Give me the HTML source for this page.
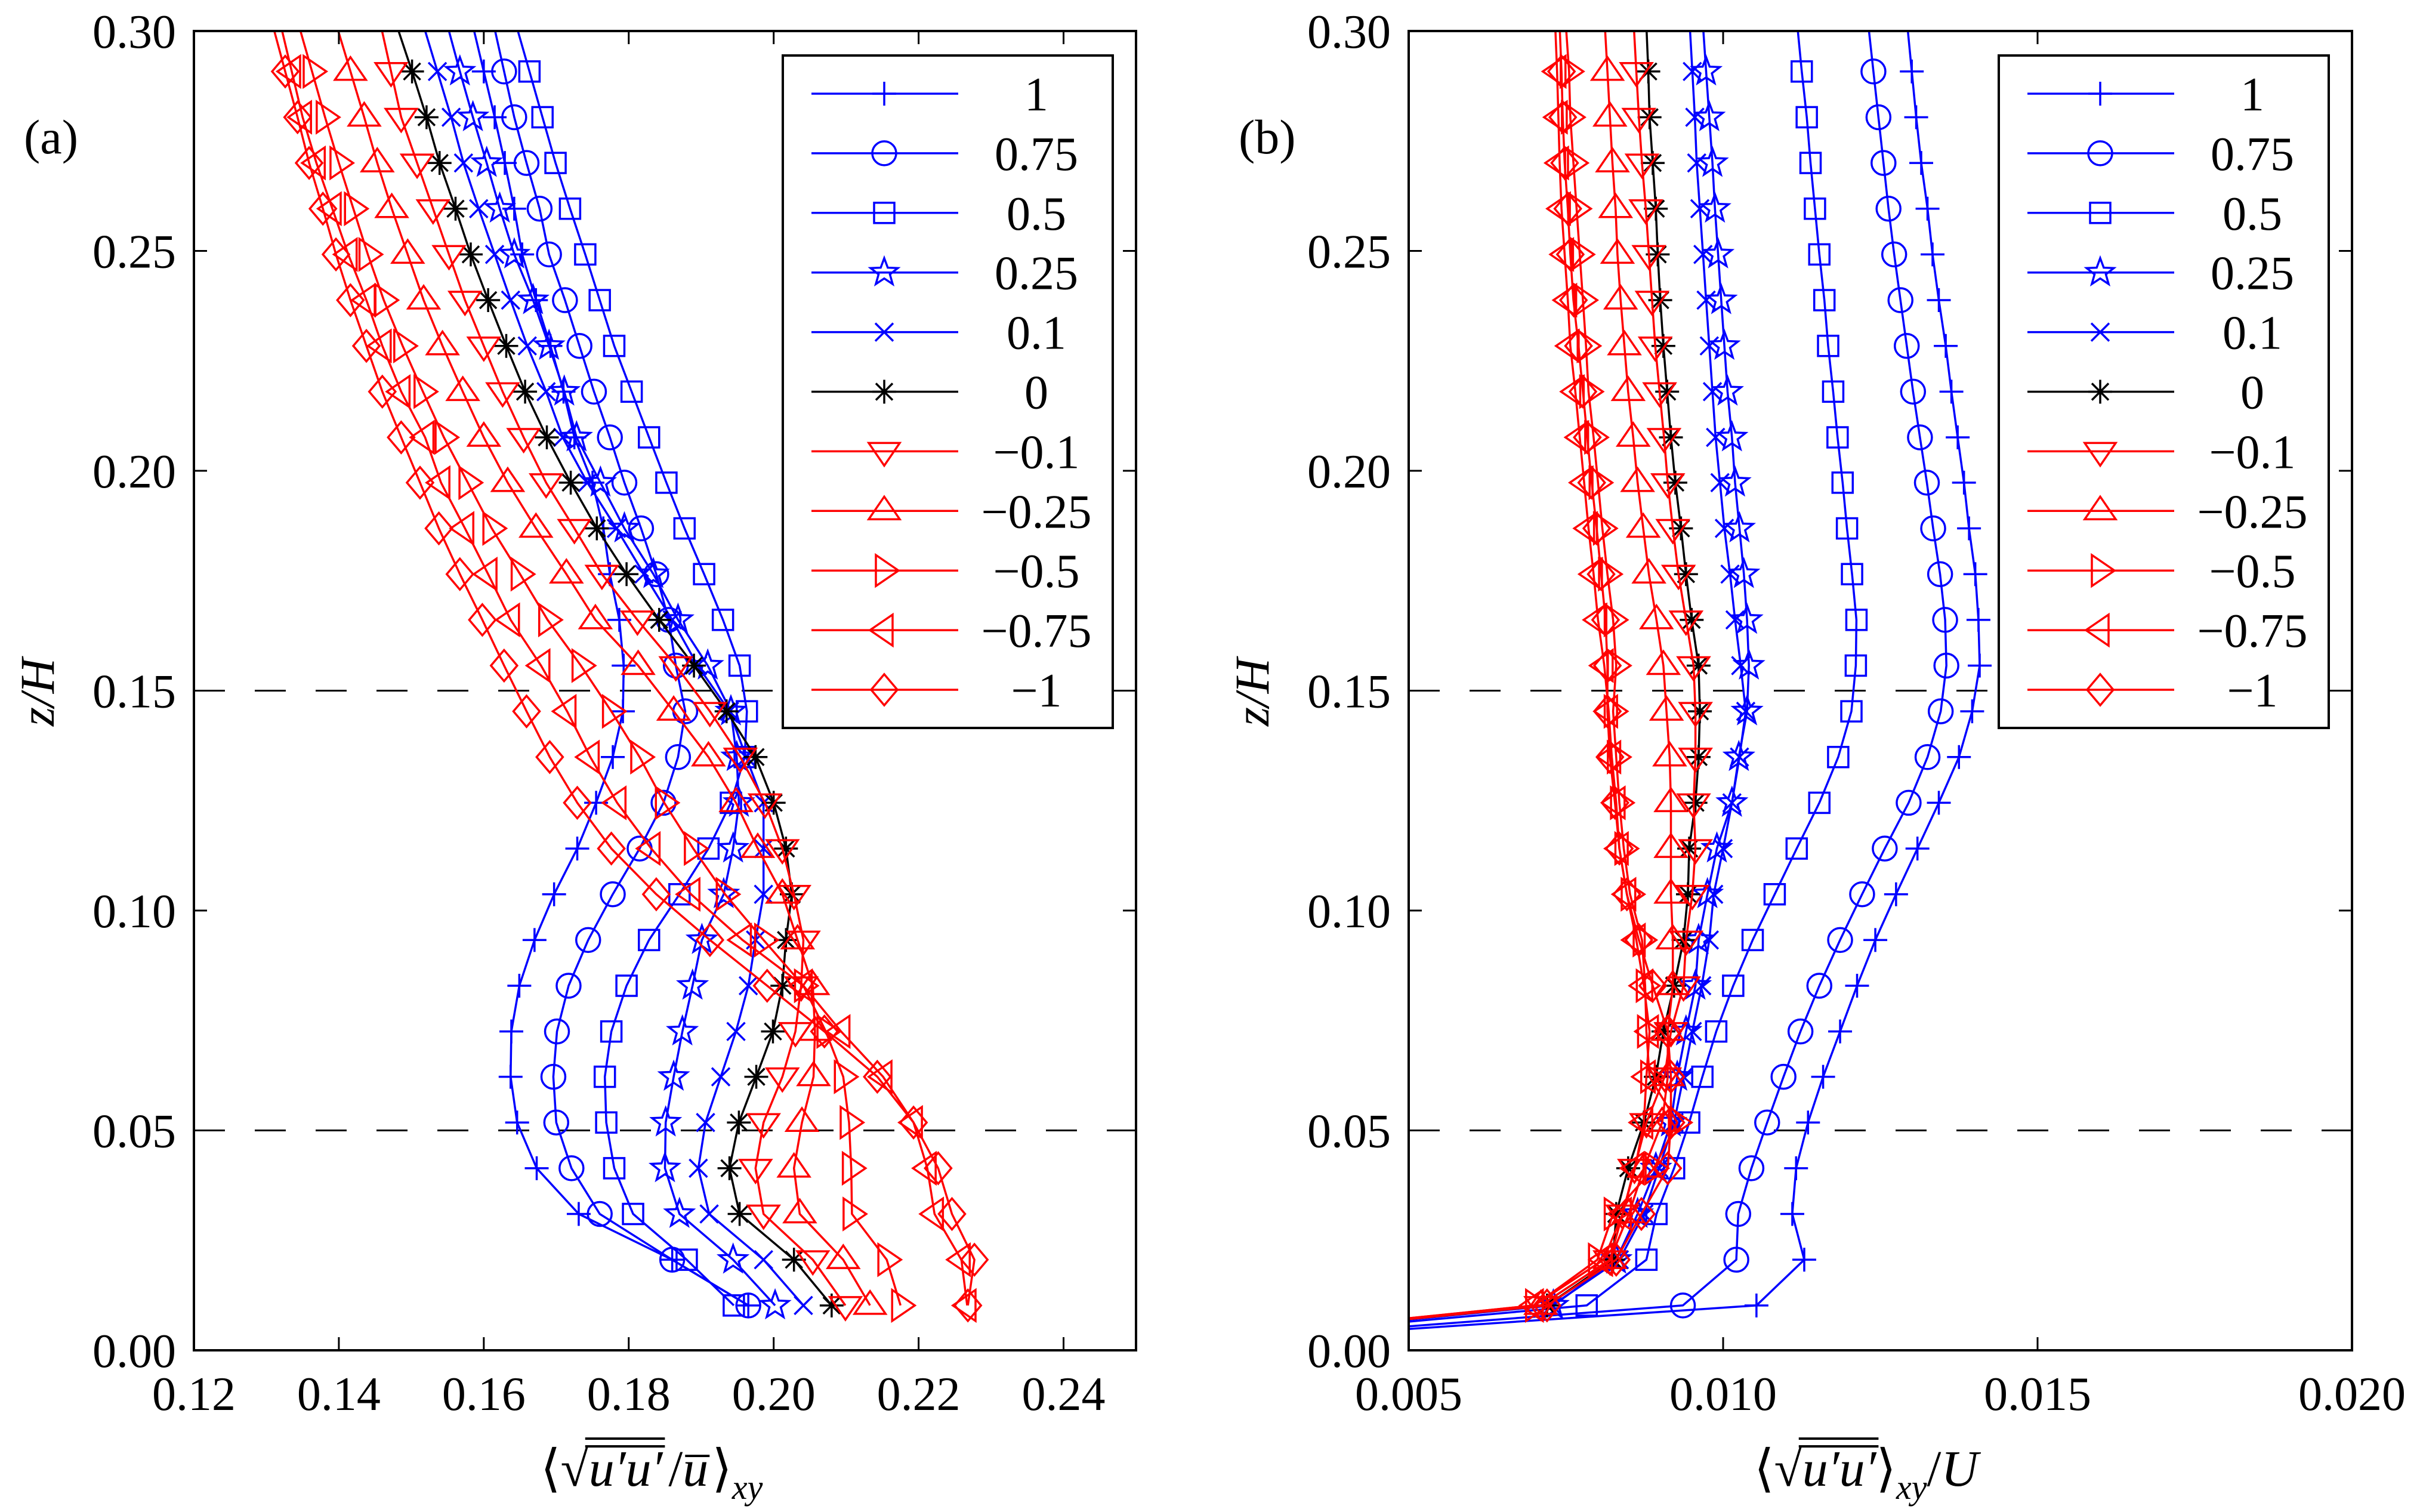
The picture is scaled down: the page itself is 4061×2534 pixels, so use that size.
<!DOCTYPE html>
<html><head><meta charset="utf-8"><title>Profiles</title>
<style>
html,body{margin:0;padding:0;background:#fff;}
svg{display:block;font-family:"Liberation Serif","DejaVu Serif",serif;}
</style></head>
<body>
<svg id="fig" width="4061" height="2534" viewBox="0 0 4061 2534" xmlns="http://www.w3.org/2000/svg"></svg>
<script>
// ---- data ----
const zLevels = [0.0102,0.0206,0.031,0.0414,0.0518,0.0622,0.0725,0.0829,0.0933,0.1037,0.1141,0.1245,0.1349,0.1453,0.1557,0.1661,0.1765,0.1869,0.1973,0.2076,0.218,0.2284,0.2388,0.2492,0.2596,0.27,0.2804,0.2908,0.3012];
const seriesNames = ["1","0.75","0.5","0.25","0.1","0","\u22120.1","\u22120.25","\u22120.5","\u22120.75","\u22121"];
// panel (a)
const aS1  = [0.1965,0.186,0.1731,0.1673,0.1646,0.1637,0.1638,0.1649,0.167,0.1697,0.1729,0.1755,0.1778,0.1792,0.1793,0.1787,0.1774,0.1765,0.175,0.1725,0.171,0.1692,0.1672,0.1653,0.1642,0.1629,0.1615,0.160,0.1585];
const aS075= [0.1965,0.186,0.176,0.1721,0.170,0.1696,0.1701,0.1717,0.1744,0.1778,0.1815,0.1848,0.1868,0.1878,0.1865,0.1855,0.1838,0.1817,0.1794,0.1774,0.1752,0.1732,0.1712,0.169,0.1677,0.1659,0.1642,0.1628,0.1614];
const aS05 = [0.1945,0.188,0.1806,0.178,0.1769,0.1767,0.1776,0.1797,0.1828,0.187,0.191,0.1941,0.196,0.1963,0.1953,0.193,0.1904,0.1877,0.1852,0.1828,0.1804,0.178,0.176,0.174,0.1719,0.1699,0.1681,0.1663,0.1645];
const aS025= [0.2002,0.1944,0.187,0.185,0.1851,0.1862,0.1874,0.1888,0.1901,0.1931,0.1944,0.1952,0.1949,0.1941,0.1909,0.1868,0.1834,0.1794,0.1761,0.1728,0.1711,0.169,0.1668,0.1642,0.1622,0.1604,0.1585,0.1567,0.155];
const aS01 = [0.2041,0.1986,0.1911,0.1896,0.1906,0.1927,0.1948,0.1965,0.1975,0.1986,0.1986,0.1986,0.1962,0.1939,0.1895,0.186,0.1821,0.1783,0.1743,0.1709,0.1686,0.166,0.1637,0.1615,0.1593,0.1572,0.1555,0.1536,0.1517];
const aS0  = [0.208,0.2028,0.1953,0.1939,0.1952,0.1976,0.1999,0.2012,0.2017,0.2025,0.2017,0.200,0.1975,0.1935,0.189,0.1842,0.1797,0.1756,0.172,0.1687,0.1657,0.1631,0.1606,0.1582,0.1561,0.1539,0.1521,0.1501,0.148];
const aSm01= [0.2099,0.2054,0.1986,0.1975,0.1986,0.2012,0.203,0.2038,0.2041,0.2028,0.2012,0.1988,0.1954,0.1912,0.1865,0.1812,0.1763,0.1725,0.1686,0.1655,0.1626,0.16,0.1574,0.1552,0.153,0.1508,0.1486,0.1472,0.1458];
const aSm025=[0.2133,0.2096,0.2036,0.2028,0.2039,0.2055,0.2057,0.2054,0.2033,0.2012,0.1978,0.1948,0.191,0.1862,0.1813,0.1754,0.1714,0.1672,0.1633,0.16,0.1571,0.1543,0.1517,0.1495,0.1473,0.1453,0.1435,0.1416,0.1397];
const aSm05= [0.2175,0.2156,0.2108,0.2107,0.2104,0.2096,0.2072,0.2041,0.1986,0.1933,0.1889,0.1849,0.1815,0.1776,0.1734,0.1688,0.165,0.1611,0.1578,0.1545,0.1516,0.1488,0.1462,0.144,0.142,0.14,0.1381,0.1363,0.1345];
const aSm075=[0.2267,0.2259,0.2222,0.2212,0.2193,0.2151,0.2093,0.2041,0.1957,0.1886,0.1831,0.1784,0.1747,0.1715,0.1679,0.1637,0.1606,0.1574,0.1541,0.1519,0.1486,0.146,0.1438,0.1413,0.1391,0.1369,0.135,0.1335,0.132];
const aSm1 = [0.2268,0.2277,0.2246,0.2227,0.2193,0.2143,0.207,0.1991,0.1912,0.1838,0.1776,0.1729,0.1691,0.1659,0.1628,0.1598,0.1567,0.1538,0.1512,0.1486,0.146,0.1438,0.1416,0.1396,0.1378,0.1359,0.1343,0.1326,0.1309];
// panel (b) (first value is at z = 0)
const bS1  = [0,0.01053,0.01129,0.0111,0.01116,0.01135,0.01159,0.01186,0.01213,0.01242,0.01275,0.01309,0.01343,0.01375,0.01396,0.01408,0.01406,0.01401,0.01391,0.01383,0.01373,0.01363,0.01354,0.01343,0.01333,0.01325,0.01315,0.01307,0.0130,0.01293];
const bS075= [0,0.00936,0.01021,0.01024,0.01045,0.0107,0.01096,0.01123,0.01153,0.01186,0.01221,0.01257,0.01295,0.01325,0.01346,0.01355,0.01353,0.01345,0.01334,0.01324,0.01313,0.01302,0.01292,0.01282,0.01272,0.01263,0.01255,0.01247,0.01239,0.01231];
const bS05 = [0,0.00783,0.00878,0.00894,0.00922,0.00946,0.00967,0.00989,0.01016,0.01047,0.01082,0.01117,0.01153,0.01183,0.01204,0.01211,0.01212,0.01205,0.01197,0.0119,0.01182,0.01175,0.01167,0.01161,0.01153,0.01146,0.01139,0.01133,0.01125,0.01118];
const bS025= [0,0.0073,0.0083,0.00864,0.00893,0.00917,0.00927,0.00941,0.00956,0.00961,0.00975,0.0099,0.01014,0.01025,0.01038,0.01041,0.01038,0.01033,0.01026,0.01019,0.01014,0.01007,0.01002,0.00997,0.00992,0.00987,0.00983,0.00978,0.00973,0.00968];
const bS01 = [0,0.00728,0.00835,0.00874,0.00898,0.00922,0.00937,0.00951,0.00966,0.00978,0.00985,0.01,0.01014,0.01026,0.01036,0.01028,0.01019,0.01011,0.01002,0.00995,0.00988,0.00983,0.00978,0.00973,0.00968,0.00963,0.00958,0.00955,0.00951,0.00947];
const bS0  = [0,0.0072,0.00825,0.0083,0.00849,0.00874,0.00893,0.00905,0.00922,0.00937,0.00944,0.00946,0.00956,0.00961,0.00963,0.00961,0.0095,0.00941,0.00933,0.00924,0.00917,0.00911,0.00905,0.009,0.00896,0.00893,0.00888,0.00883,0.00881,0.00878];
const bSm01= [0,0.0071,0.0082,0.0084,0.00859,0.00878,0.00907,0.00917,0.00937,0.00941,0.00951,0.00956,0.00953,0.00956,0.00956,0.00953,0.00941,0.00929,0.0092,0.00912,0.00906,0.00899,0.00892,0.00887,0.00882,0.00877,0.00871,0.00866,0.00862,0.00858];
const bSm025=[0,0.0071,0.0082,0.0085,0.00874,0.00903,0.00912,0.00912,0.0092,0.0092,0.00917,0.00917,0.00917,0.00915,0.0091,0.00905,0.00894,0.00882,0.00873,0.00864,0.00857,0.00849,0.00843,0.00837,0.00832,0.00829,0.00824,0.0082,0.00816,0.00812];
const bSm05= [0,0.0070,0.0080,0.00825,0.0089,0.00927,0.00883,0.00878,0.00876,0.00871,0.00852,0.00842,0.00835,0.0083,0.00825,0.0083,0.00825,0.00816,0.00808,0.00801,0.00794,0.00786,0.00782,0.00777,0.00772,0.00767,0.00762,0.00757,0.00755,0.0075];
const bSm075=[0,0.0070,0.0081,0.0084,0.0086,0.00874,0.00878,0.00883,0.00874,0.00862,0.00847,0.00835,0.0083,0.00823,0.00818,0.00811,0.00801,0.00794,0.00786,0.00779,0.00772,0.00765,0.00757,0.00753,0.00748,0.00743,0.0074,0.00738,0.00736,0.00733];
const bSm1 = [0,0.0072,0.0083,0.0087,0.00912,0.00917,0.00917,0.00912,0.00888,0.00866,0.00847,0.00835,0.00828,0.0082,0.00816,0.00816,0.00813,0.00806,0.00799,0.00791,0.00784,0.00777,0.0077,0.00762,0.00757,0.00753,0.00748,0.00745,0.00743,0.0074];
const xTicksA = [0.12,0.14,0.16,0.18,0.20,0.22,0.24];
const xTickLabelsA = ["0.12","0.14","0.16","0.18","0.20","0.22","0.24"];
const xTicksB = [0.005,0.010,0.015,0.020];
const xTickLabelsB = ["0.005","0.010","0.015","0.020"];
const yTicks = [0,0.05,0.10,0.15,0.20,0.25,0.30];
const yTickLabels = ["0.00","0.05","0.10","0.15","0.20","0.25","0.30"];
const dashedZ = [0.05,0.15];

// ---- styles ----
const colors = ["#0000ff","#0000ff","#0000ff","#0000ff","#0000ff","#000000","#ff0000","#ff0000","#ff0000","#ff0000","#ff0000"];
const markers = ["plus","circle","square","star","x","asterisk","tdown","tup","tright","tleft","diamond"];
const slugs = ["1","0-75","0-5","0-25","0-1","0","m0-1","m0-25","m0-5","m0-75","m1"];
const aSeries = [aS1,aS075,aS05,aS025,aS01,aS0,aSm01,aSm025,aSm05,aSm075,aSm1];
const bSeries = [bS1,bS075,bS05,bS025,bS01,bS0,bSm01,bSm025,bSm05,bSm075,bSm1];

const NS = "http://www.w3.org/2000/svg";
const svg = document.getElementById("fig");
function el(tag, attrs, parent){
  const e = document.createElementNS(NS, tag);
  for (const k in attrs) e.setAttribute(k, attrs[k]);
  (parent||svg).appendChild(e);
  return e;
}
const TOP=52, BOT=2263;
function Y(z){ return BOT - z/0.3*(BOT-TOP); }
const panels = [
  {id:"a", L:325, R:1904, xmin:0.12, xmax:0.25, ticks:xTicksA, labels:xTickLabelsA, series:aSeries, zOffset:0, legX:1312},
  {id:"b", L:2361, R:3942, xmin:0.005, xmax:0.020, ticks:xTicksB, labels:xTickLabelsB, series:bSeries, zOffset:1, legX:3350}
];

function drawMarker(g, type, cx, cy, color){
  const s = {fill:"none", stroke:color, "stroke-width":3.5};
  let m;
  if (type==="plus"){
    m = el("path", Object.assign({d:`M${cx-20},${cy}H${cx+20}M${cx},${cy-20}V${cy+20}`}, s), g);
  } else if (type==="circle"){
    m = el("circle", Object.assign({cx:cx, cy:cy, r:20}, s), g);
  } else if (type==="square"){
    m = el("rect", Object.assign({x:cx-17, y:cy-17, width:34, height:34}, s), g);
  } else if (type==="x"){
    m = el("path", Object.assign({d:`M${cx-15},${cy-15}L${cx+15},${cy+15}M${cx-15},${cy+15}L${cx+15},${cy-15}`}, s), g);
  } else if (type==="asterisk"){
    m = el("path", Object.assign({d:`M${cx-20},${cy}H${cx+20}M${cx},${cy-20}V${cy+20}M${cx-14},${cy-14}L${cx+14},${cy+14}M${cx-14},${cy+14}L${cx+14},${cy-14}`}, s), g);
  } else if (type==="star"){
    let p=[]; for(let i=0;i<10;i++){const r=i%2?10:24; const a=-Math.PI/2+i*Math.PI/5; p.push((cx+r*Math.cos(a)).toFixed(1)+","+(cy+r*Math.sin(a)).toFixed(1));}
    m = el("polygon", Object.assign({points:p.join(" ")}, s), g);
  } else if (type==="tdown"){
    m = el("polygon", Object.assign({points:`${cx-26},${cy-14} ${cx+26},${cy-14} ${cx},${cy+24}`}, s), g);
  } else if (type==="tup"){
    m = el("polygon", Object.assign({points:`${cx-26},${cy+14} ${cx+26},${cy+14} ${cx},${cy-24}`}, s), g);
  } else if (type==="tright"){
    m = el("polygon", Object.assign({points:`${cx-14},${cy-26} ${cx-14},${cy+26} ${cx+24},${cy}`}, s), g);
  } else if (type==="tleft"){
    m = el("polygon", Object.assign({points:`${cx+14},${cy-26} ${cx+14},${cy+26} ${cx-24},${cy}`}, s), g);
  } else if (type==="diamond"){
    m = el("polygon", Object.assign({points:`${cx},${cy-26} ${cx+22},${cy} ${cx},${cy+26} ${cx-22},${cy}`}, s), g);
  }
  return m;
}

const defs = el("defs", {});
panels.forEach(p=>{
  const cp = el("clipPath", {id:"clip-"+p.id}, defs);
  el("rect", {x:p.L, y:TOP, width:p.R-p.L, height:BOT-TOP}, cp);
});

panels.forEach(p=>{
  const X = v => p.L + (v-p.xmin)/(p.xmax-p.xmin)*(p.R-p.L);
  const pg = el("g", {});
  
  

  dashedZ.forEach(z=>{
    const d = el("line", {x1:p.L, x2:p.R, y1:Y(z), y2:Y(z), stroke:"#000", "stroke-width":3, "stroke-dasharray":"52 50"}, pg);
    
    
  });

  const plotArea = el("g", {"clip-path":"url(#clip-"+p.id+")"}, pg);
  p.series.forEach((vals, si)=>{
    const g = el("g", {}, plotArea);
    
    
    const zs = p.zOffset ? [0].concat(zLevels) : zLevels;
    const pts = vals.map((v,i)=>X(v).toFixed(1)+","+Y(zs[i]).toFixed(1));
    const pl = el("polyline", {points:pts.join(" "), fill:"none", stroke:colors[si], "stroke-width":3.5, "stroke-linejoin":"round"}, g);
    
    
    vals.forEach((v,i)=>{
      const z = zs[i];
      if (z<=0 || z>0.3) return;
      const m = drawMarker(g, markers[si], X(v), Y(z), colors[si]);
      
      
    });
  });

  const box = el("rect", {x:p.L, y:TOP, width:p.R-p.L, height:BOT-TOP, fill:"none", stroke:"#000", "stroke-width":4}, pg);
  
  

  p.ticks.forEach((t,i)=>{
    const x = X(t);
    el("line", {x1:x, x2:x, y1:BOT, y2:BOT-22, stroke:"#000", "stroke-width":3}, pg);
    el("line", {x1:x, x2:x, y1:TOP, y2:TOP+22, stroke:"#000", "stroke-width":3}, pg);
    const tx = el("text", {x:x, y:2363, "font-size":80, "text-anchor":"middle", fill:"#000"}, pg);
    tx.textContent = p.labels[i];
    
    
  });
  yTicks.forEach((t,i)=>{
    const y = Y(t);
    el("line", {x1:p.L, x2:p.L+22, y1:y, y2:y, stroke:"#000", "stroke-width":3}, pg);
    el("line", {x1:p.R, x2:p.R-22, y1:y, y2:y, stroke:"#000", "stroke-width":3}, pg);
    const ty = el("text", {x:p.L-30, y:y+28, "font-size":80, "text-anchor":"end", fill:"#000"}, pg);
    ty.textContent = yTickLabels[i];
    
    
  });

  const yt = el("text", {x:0, y:0, "font-size":82, "font-style":"italic", "text-anchor":"middle", transform:`translate(${p.L-235},1160) rotate(-90)`}, pg);
  yt.textContent = "z/H";
  
  

  const pl = el("text", {x:p.L-285, y:257, "font-size":82, fill:"#000"}, pg);
  pl.textContent = "("+p.id+")";
  
  

  const lg = el("g", {}, pg);
  
  
  el("rect", {x:p.legX, y:93, width:553, height:1127, fill:"#fff", stroke:"#000", "stroke-width":4}, lg);
  seriesNames.forEach((nm, si)=>{
    const y = 157 + si*99.9;
    const e = el("g", {}, lg);
    
    
    el("line", {x1:p.legX+48, x2:p.legX+294, y1:y, y2:y, stroke:colors[si], "stroke-width":3.5}, e);
    drawMarker(e, markers[si], p.legX+170, y, colors[si]);
    const t = el("text", {x:p.legX+425, y:y+28, "font-size":80, "text-anchor":"middle", fill:"#000"}, e);
    t.textContent = nm;
  });
});

// x-axis titles with measured overbars
function charSpan(t, a, b){
  return [t.getStartPositionOfChar(a).x, t.getEndPositionOfChar(b).x];
}
(function(){
  const g = el("g", {});
  
  
  const t = el("text", {x:906, y:2490, "font-size":86, fill:"#000"}, g);
  t.innerHTML = '<tspan>\u27E8\u221A</tspan><tspan font-style="italic">u\u2032u\u2032</tspan><tspan dx="10">/</tspan><tspan font-style="italic">u</tspan><tspan dx="6">\u27E9</tspan><tspan font-style="italic" font-size="58" dy="22">xy</tspan>';
  // chars: 0 ⟨,1 √,2 u,3 ′,4 u,5 ′,6 /,7 u,8 ⟩,9 x,10 y
  try{
    const s1 = charSpan(t,2,5);
    el("line", {x1:s1[0]-6, x2:s1[1]+4, y1:2411, y2:2411, stroke:"#000", "stroke-width":4}, g);
    el("line", {x1:s1[0]-6, x2:s1[1]+4, y1:2424, y2:2424, stroke:"#000", "stroke-width":4}, g);
    const s2 = charSpan(t,7,7);
    el("line", {x1:s2[0]+4, x2:s2[1]+2, y1:2440, y2:2440, stroke:"#000", "stroke-width":4}, g);
  }catch(e){}

  const g2 = el("g", {});
  
  
  const t2 = el("text", {x:2940, y:2490, "font-size":86, fill:"#000"}, g2);
  t2.innerHTML = '<tspan>\u27E8\u221A</tspan><tspan font-style="italic">u\u2032u\u2032</tspan><tspan>\u27E9</tspan><tspan font-style="italic" font-size="58" dy="22">xy</tspan><tspan dy="-22">/</tspan><tspan font-style="italic">U</tspan>';
  try{
    const s = charSpan(t2,2,5);
    el("line", {x1:s[0]-6, x2:s[1]+4, y1:2411, y2:2411, stroke:"#000", "stroke-width":4}, g2);
    el("line", {x1:s[0]-6, x2:s[1]+4, y1:2424, y2:2424, stroke:"#000", "stroke-width":4}, g2);
  }catch(e){}
})();
</script>
</body></html>
